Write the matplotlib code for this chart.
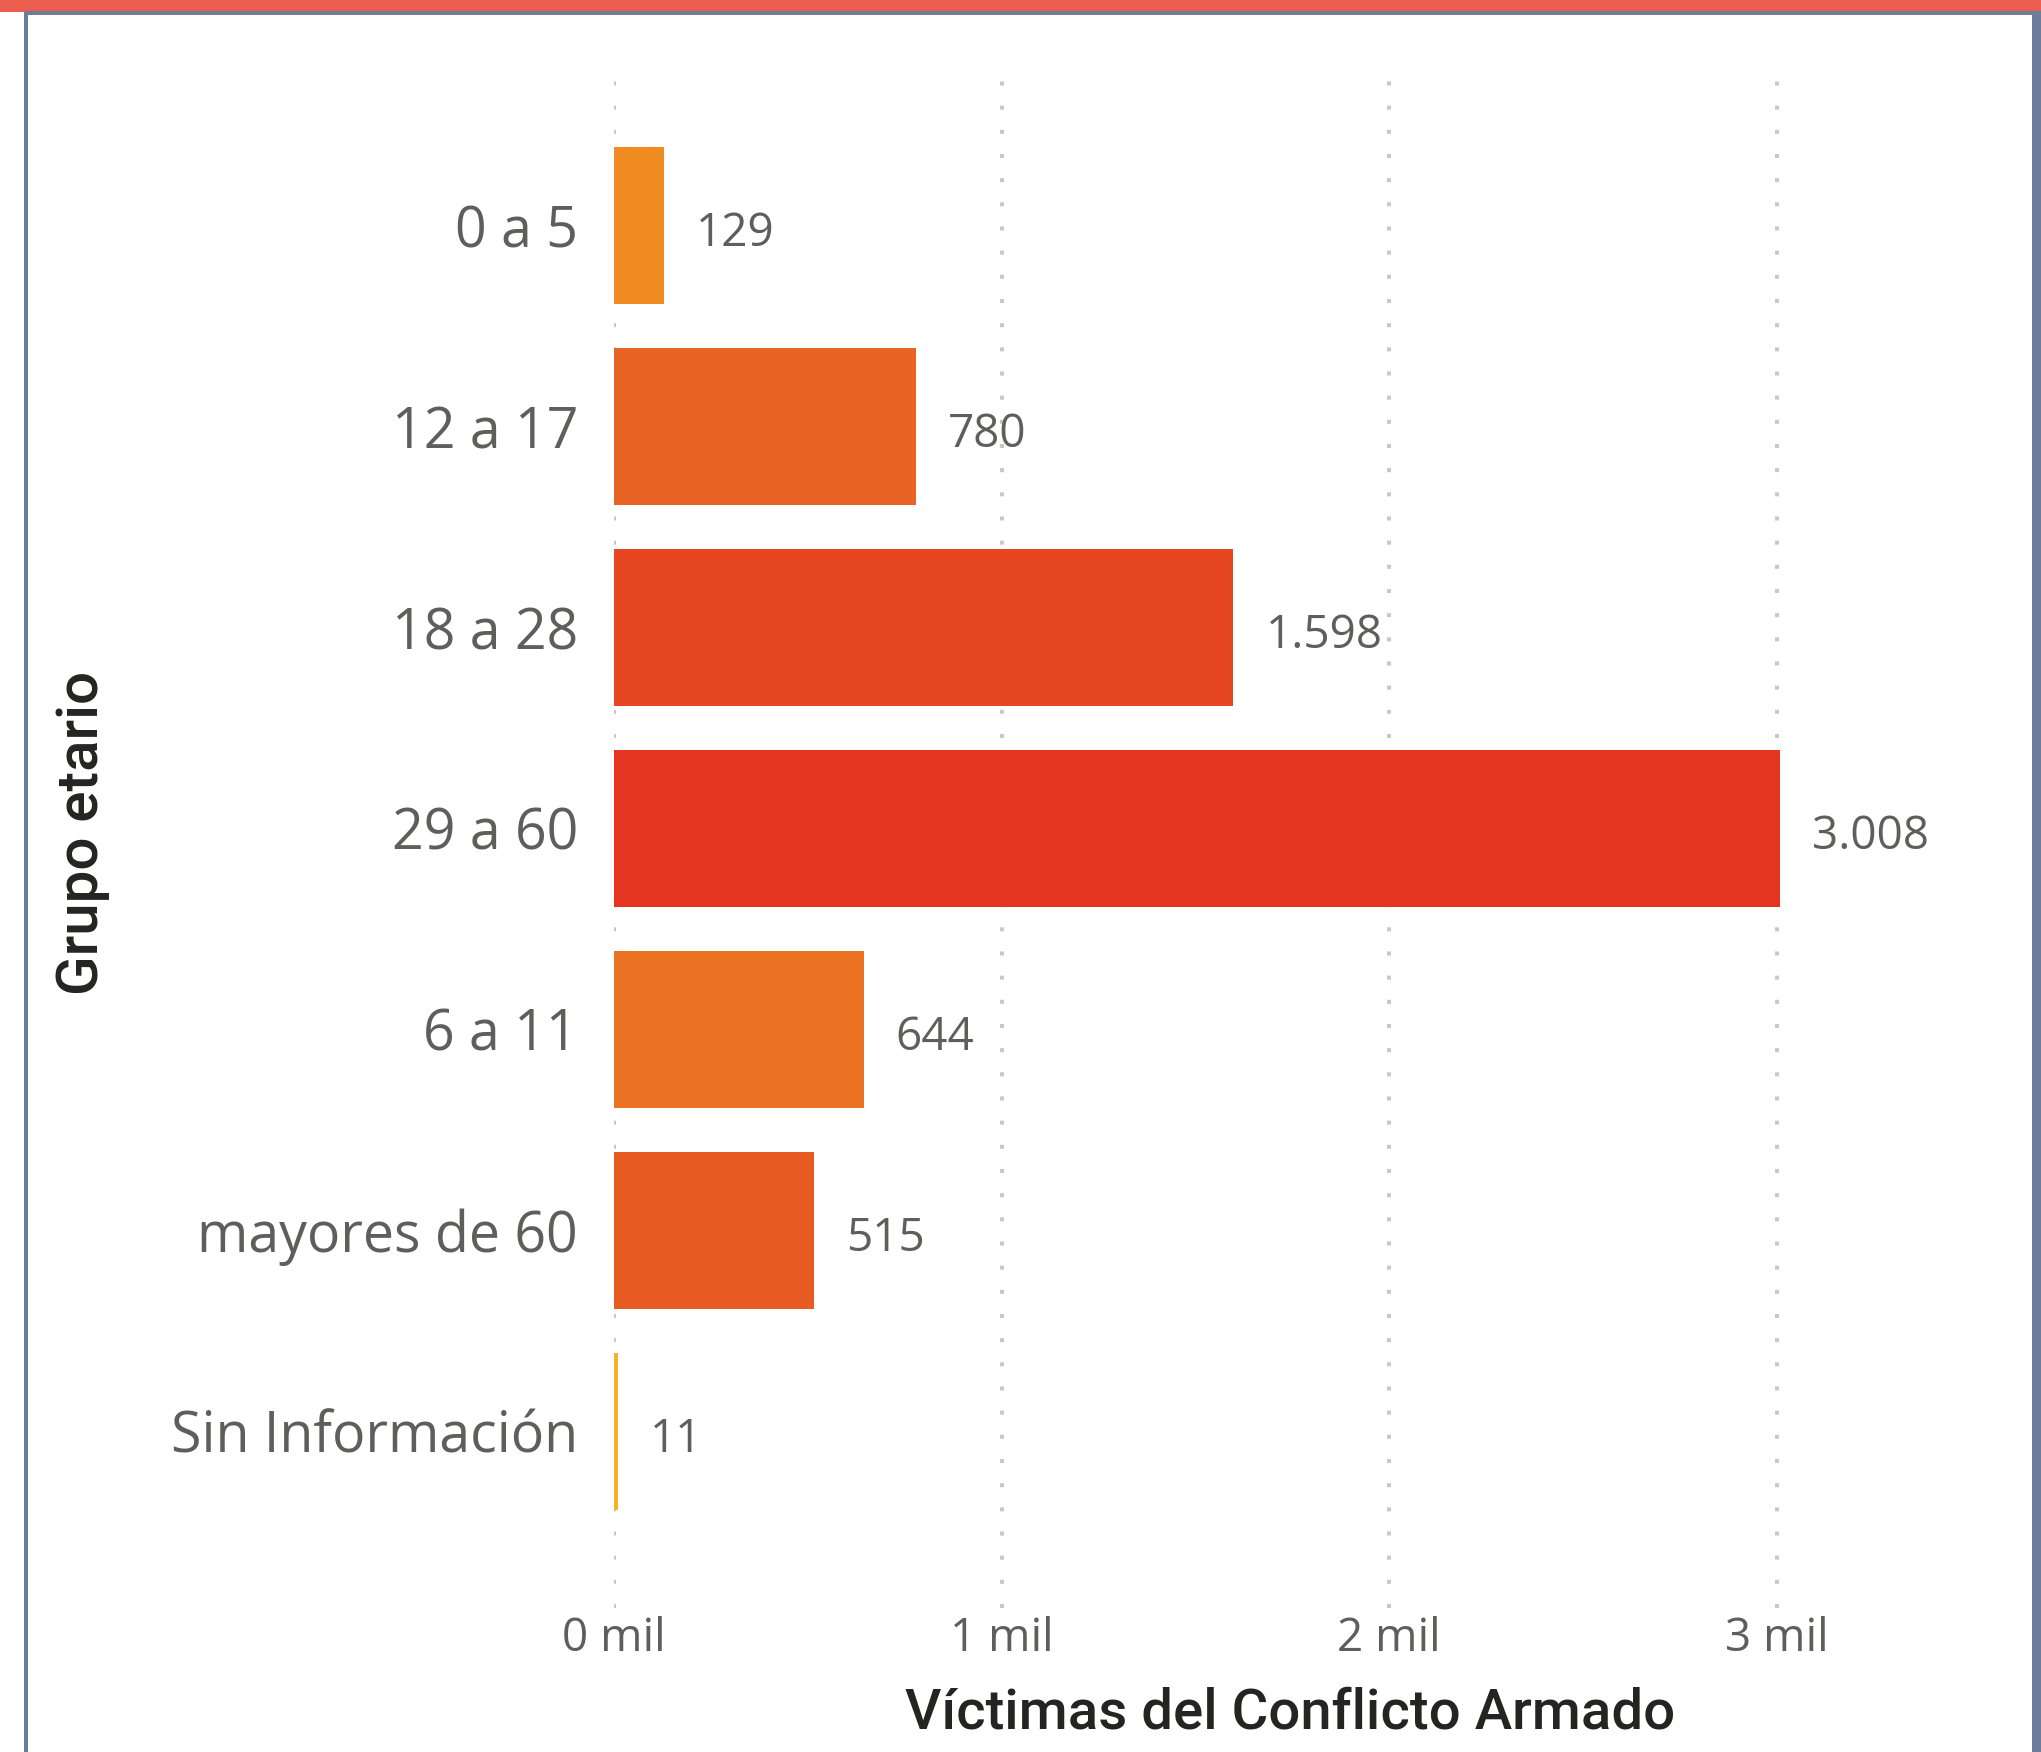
import matplotlib.pyplot as plt
from matplotlib.patches import Rectangle

plt.rcParams["font.family"] = ["Open Sans", "DejaVu Sans"]

grupos = ["0 a 5", "12 a 17", "18 a 28", "29 a 60", "6 a 11", "mayores de 60", "Sin Información"]
victimas = [129, 780, 1598, 3008, 644, 515, 11]
colores = ["#F18C22", "#E96424", "#E64720", "#E33520", "#EC7223", "#E85B22", "#F6B225"]
ticks_x = [0, 1000, 2000, 3000]
ticks_x_labels = ["0 mil", "1 mil", "2 mil", "3 mil"]

W, H = 2041, 1752
TEXTO = "#605E5C"
TITULO = "#252423"


def miles(v):
    return f"{v:,}".replace(",", ".")


fig = plt.figure(figsize=(W / 100, H / 100), dpi=100)
fig.patch.set_facecolor("white")

# marco de la tarjeta
fig.patches.append(Rectangle((0, 1 - 12 / H), 1, 12 / H, transform=fig.transFigure,
                             facecolor="#EB5E4F", edgecolor="none", zorder=0))
fig.patches.append(Rectangle((24 / W, 1 - 15 / H), 1 - 24 / W, 3.5 / H, transform=fig.transFigure,
                             facecolor="#6C7D9A", edgecolor="none", zorder=0))
fig.patches.append(Rectangle((24 / W, 0), 4 / W, 1 - 12 / H, transform=fig.transFigure,
                             facecolor="#6C7D9A", edgecolor="none", zorder=0))
fig.patches.append(Rectangle((2032 / W, 0), 9 / W, 1 - 12 / H, transform=fig.transFigure,
                             facecolor="#6C7D9A", edgecolor="none", zorder=0))

ax = fig.add_axes([614 / W, 1 - 1608 / H, (1932 - 614) / W, (1608 - 81) / H])
ax.set_facecolor("none")

pos = list(range(len(grupos)))
ax.barh(pos, victimas, height=0.78, color=colores, zorder=2)

for p, v in zip(pos, victimas):
    ax.annotate(miles(v), xy=(v, p), xytext=(23, -6), textcoords="offset points",
                va="center", ha="left", fontsize=33, color=TEXTO)

ax.set_xlim(0, 3400)
ax.set_ylim(6.88, -0.72)
ax.set_yticks(pos)
ax.set_yticklabels(grupos, fontsize=40, color=TEXTO)
ax.set_xticks(ticks_x)
ax.set_xticklabels(ticks_x_labels, fontsize=33, color=TEXTO)
ax.tick_params(axis="both", length=0)
ax.tick_params(axis="y", pad=26)
ax.tick_params(axis="x", pad=6)

ax.grid(axis="x", color="#C8C8C8", linewidth=2.9, linestyle=(0, (1, 5)), zorder=1)
ax.grid(axis="y", visible=False)
for s in ax.spines.values():
    s.set_visible(False)

ax.set_xlabel("Víctimas del Conflicto Armado", fontsize=40.5, color=TITULO,
              family=["Roboto", "DejaVu Sans"], fontweight="medium", va="center")
ax.xaxis.set_label_coords(0.513, -0.069)
ax.set_ylabel("Grupo etario", fontsize=42, color=TITULO,
              family=["Roboto", "DejaVu Sans"], fontweight="medium", va="center")
ax.yaxis.set_label_coords(-0.403, 0.5075)

fig.savefig("out.png", dpi=100)
